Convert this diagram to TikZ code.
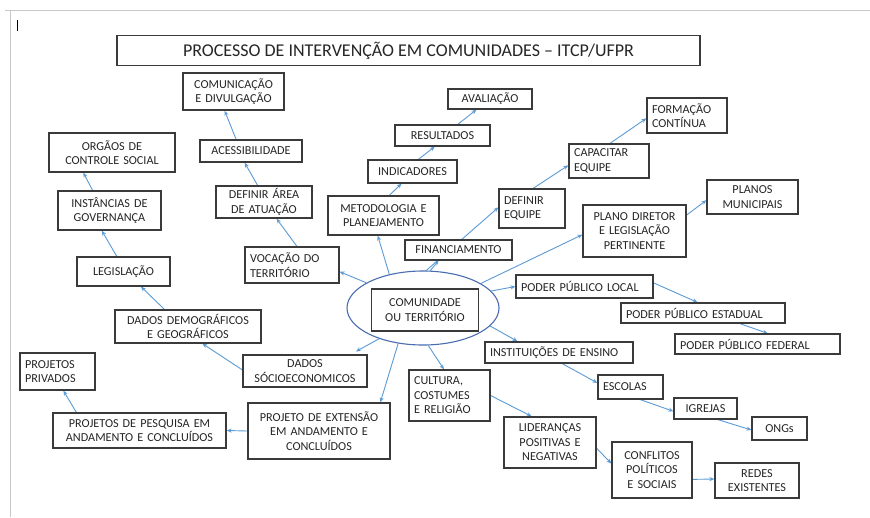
\documentclass[tikz,border=0pt]{standalone}
\usepackage{fontspec}
\setmainfont{Carlito}
\usepackage{xcolor}
\usepackage{tikz}
\usetikzlibrary{arrows.meta,shapes.geometric,backgrounds}
\definecolor{boxline}{HTML}{3A3A3A}
\definecolor{boxtext}{HTML}{262626}
\definecolor{arrowblue}{HTML}{5B9BD5}
\definecolor{ellblue}{HTML}{4A6DB0}
\definecolor{pagerule}{HTML}{C8C8C8}

\begin{document}
\begin{tikzpicture}[x=1pt,y=-1pt,
    box/.style={draw=boxline, line width=1.2pt, fill=white, text=boxtext, inner xsep=5pt, inner ysep=1pt, align=center, font=\fontsize{12.2}{14.5}\selectfont},
    lbox/.style={box, align=left},
    conn/.style={arrowblue, line width=0.9pt, -{Stealth[length=5pt,width=4pt]}}]
  \useasboundingbox (0,0) rectangle (870,517);
  \draw[pagerule, line width=1.2pt] (5,10.5) -- (870,10.5);
  \draw[pagerule, line width=1.2pt] (10.5,10.5) -- (10.5,517);
  \draw[black, line width=0.8pt] (17,20) -- (17,31);

  \node[box, minimum width=583pt, minimum height=30pt, font=\fontsize{18}{22}\selectfont] (title) at (408.5,50.5) {PROCESSO DE INTERVENÇÃO EM COMUNIDADES – ITCP/UFPR};

  \node[box, text width=91pt, minimum height=37pt] (comdiv) at (233.5,91.5) {COMUNICAÇÃO\\E DIVULGAÇÃO};
  \node[box, text width=116pt, minimum height=39pt] (orgaos) at (112,152.5) {ORGÃOS DE\\CONTROLE SOCIAL};
  \node[box, text width=92pt, minimum height=22pt] (acess) at (251,151) {ACESSIBILIDADE};
  \node[box, text width=93pt, minimum height=39pt] (instanc) at (109.5,210.5) {INSTÂNCIAS DE\\GOVERNANÇA};
  \node[box, text width=86pt, minimum height=32pt] (area) at (264,202) {DEFINIR ÁREA\\DE ATUAÇÃO};
  \node[box, text width=74pt, minimum height=20pt] (aval) at (490,99) {AVALIAÇÃO};
  \node[box, text width=85pt, minimum height=21pt] (result) at (442.5,135.5) {RESULTADOS};
  \node[box, text width=79pt, minimum height=23pt] (indic) at (412.5,171.5) {INDICADORES};
  \node[box, text width=101pt, minimum height=39pt] (metod) at (383.5,215.5) {METODOLOGIA E\\PLANEJAMENTO};
  \node[box, text width=97pt, minimum height=20pt] (financ) at (458.5,250) {FINANCIAMENTO};
  \node[lbox, text width=56pt, minimum height=39pt] (equipe) at (532,208.5) {DEFINIR\\EQUIPE};
  \node[lbox, text width=70pt, minimum height=34pt] (capac) at (609,161) {CAPACITAR\\EQUIPE};
  \node[lbox, text width=70pt, minimum height=35pt] (formac) at (687,115.5) {FORMAÇÃO\\CONTÍNUA};
  \node[box, text width=81pt, minimum height=34pt] (planmun) at (752.5,197) {PLANOS\\MUNICIPAIS};
  \node[box, text width=93pt, minimum height=52pt] (plandir) at (634.5,231) {PLANO DIRETOR\\E LEGISLAÇÃO\\PERTINENTE};
  \node[box, text width=83pt, minimum height=29pt] (legis) at (123.5,271.5) {LEGISLAÇÃO};
  \node[lbox, text width=84pt, minimum height=36pt] (vocac) at (292,265) {VOCAÇÃO DO\\TERRITÓRIO};

  \node[draw=ellblue, line width=1.1pt, ellipse, minimum width=152pt, minimum height=74pt, inner sep=0pt] (ell) at (423,308) {};
  \node[box, text width=97pt, minimum height=42pt] (comun) at (425,310) {COMUNIDADE\\OU TERRITÓRIO};

  \node[lbox, text width=127pt, minimum height=23pt] (local) at (584.5,286.5) {PODER PÚBLICO LOCAL};
  \node[lbox, text width=154pt, minimum height=20pt] (estad) at (703,313) {PODER PÚBLICO ESTADUAL};
  \node[lbox, text width=155pt, minimum height=20pt] (feder) at (757.5,344) {PODER PÚBLICO FEDERAL};
  \node[box, text width=136pt, minimum height=33pt] (demog) at (188,326.5) {DADOS DEMOGRÁFICOS\\E GEOGRÁFICOS};
  \node[lbox, text width=138pt, minimum height=21pt] (instit) at (559,352.5) {INSTITUIÇÕES DE ENSINO};
  \node[box, text width=114pt, minimum height=32pt] (socio) at (305,371) {DADOS\\SÓCIOECONOMICOS};
  \node[lbox, text width=65pt, minimum height=37pt] (privad) at (57.5,371.5) {PROJETOS\\PRIVADOS};
  \node[lbox, text width=71pt, minimum height=51pt] (cultura) at (449.5,395.5) {CULTURA,\\COSTUMES\\E RELIGIÃO};
  \node[lbox, text width=55pt, minimum height=24pt] (escolas) at (630.5,387) {ESCOLAS};
  \node[box, text width=132pt, minimum height=56pt] (extens) at (319,431) {PROJETO DE EXTENSÃO\\EM ANDAMENTO E\\CONCLUÍDOS};
  \node[box, text width=163pt, minimum height=35pt] (pesq) at (139.5,430.5) {PROJETOS DE PESQUISA EM\\ANDAMENTO E CONCLUÍDOS};
  \node[box, text width=53pt, minimum height=21pt] (igrejas) at (705.5,408.5) {IGREJAS};
  \node[box, text width=45pt, minimum height=23pt] (ongs) at (779.5,428.5) {ONGs};
  \node[box, text width=82pt, minimum height=51pt] (lider) at (550,442.5) {LIDERANÇAS\\POSITIVAS E\\NEGATIVAS};
  \node[box, text width=70pt, minimum height=56pt] (confl) at (652,470) {CONFLITOS\\POLÍTICOS\\E SOCIAIS};
  \node[box, text width=74pt, minimum height=35pt] (redes) at (757,480.5) {REDES\\EXISTENTES};

  \begin{scope}[on background layer]
    \fill[white] (0,0) rectangle (870,517);
    % from the community
    \draw[conn] (ell.156) -- (vocac.-8);
    \draw[conn] (ell.135) -- (metod.-106);
    \draw[conn] (ell.79) -- (financ.-152);
    \draw[conn] (ell.85) -- (equipe.178);
    \draw[conn] (ell.23) -- (plandir.-176);
    \draw[conn] (ell.14) -- (local.180);
    \draw[conn] (ell.-15) -- (instit.165);
    \draw[conn] (ell.-82) -- (cultura.102);
    \draw[conn, shorten >=6pt] (ell.-145) -- (socio.20);
    \draw[conn] (ell.-125) -- (extens.25);
    % chains
    \draw[conn] (vocac.75) -- (area.-53);
    \draw[conn] (area.111) -- (acess.-119);
    \draw[conn] (acess.142) -- (comdiv.-115);
    \draw[conn] (metod.74) -- (indic.-132);
    \draw[conn] (indic.64) -- (result.-125);
    \draw[conn] (result.36) -- (aval.-142);
    \draw[conn] (equipe.87) -- (capac.-174);
    \draw[conn] (capac.87) -- (formac.-176);
    \draw[conn] (plandir.17) -- (planmun.-176);
    \draw[conn] (socio.179) -- (demog.-50);
    \draw[conn] (demog.144) -- (legis.-41);
    \draw[conn] (legis.114) -- (instanc.-111);
    \draw[conn] (instanc.130) -- (orgaos.-145);
    \draw[conn] (extens.180) -- (pesq.0);
    \draw[conn] (pesq.164) -- (privad.-73);
    \draw[conn] (local.3) -- (estad.117);
    \draw[conn] (estad.-16) -- (feder.46);
    \draw[conn] (instit.-74) -- (escolas.173);
    \draw[conn] (escolas.-52) -- (igrejas.-175);
    \draw[conn] (igrejas.-42) -- (ongs.-177);
    \draw[conn] (cultura.0) -- (lider.125);
    \draw[conn] (lider.-7) -- (confl.171);
    \draw[conn] (confl.-13) -- (redes.178);
  \end{scope}
\end{tikzpicture}
\end{document}
